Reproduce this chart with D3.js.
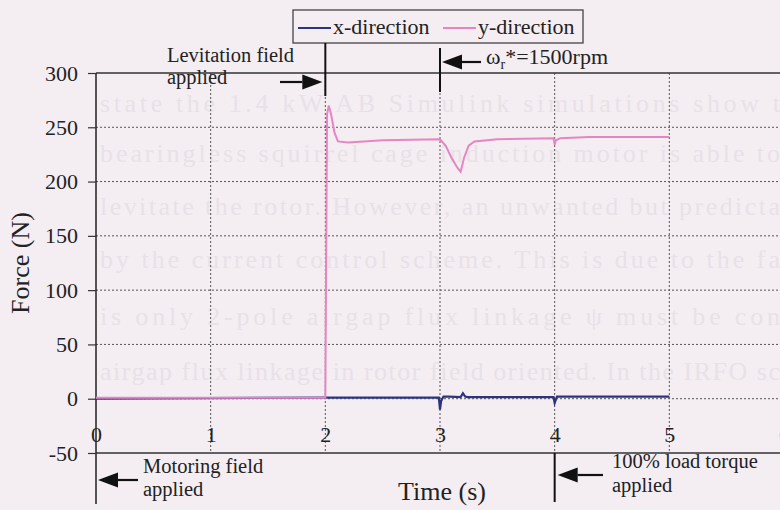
<!DOCTYPE html>
<html>
<head>
<meta charset="utf-8">
<script src="https://cdn.jsdelivr.net/npm/d3@7"></script>
<style>
  html, body { margin: 0; padding: 0; background: #f4eef3; }
  svg { display: block; font-family: "Liberation Serif", "Times New Roman", serif; }
</style>
</head>
<body>
<svg id="chart" width="780" height="510"></svg>
<script>
// ---- data ----
const xTicks = [0, 1, 2, 3, 4, 5, 6];
const yTicks = [-50, 0, 50, 100, 150, 200, 250, 300];
const seriesNames = ["x-direction", "y-direction"];

const xDirTime  = [0, 2, 2.99, 3.0, 3.01, 3.03, 3.08, 3.18, 3.2, 3.22, 3.24, 3.3, 3.99, 4.0, 4.02, 4.05, 5];
const xDirForce = [0, 1, 1, -10, -2, 2, 2, 1.5, 5, 2, 1.5, 1.5, 1.5, -4, 2, 2, 2];

const yDirTime  = [0, 2.0, 2.015, 2.03, 2.05, 2.08, 2.11, 2.2, 2.5, 3.0, 3.05, 3.1, 3.15, 3.18, 3.21, 3.25, 3.3, 3.5, 3.99, 4.0, 4.01, 4.05, 4.3, 5];
const yDirForce = [1, 1, 262, 270, 262, 245, 237, 236, 238, 239, 233, 222, 213, 209, 222, 233, 237, 239, 240, 234, 238, 240, 241, 241];

const annotations = [
  { t: 2, lines: ["Levitation field", "applied"] },
  { t: 3, lines: ["ωr*=1500rpm"] },
  { t: 0, lines: ["Motoring field", "applied"] },
  { t: 4, lines: ["100% load torque", "applied"] }
];

const ghostLines = [
  "state  the  1.4 kW  AB  Simulink  simulations  show  t",
  "bearingless  squirrel  cage  induction  motor  is  able  to",
  "levitate  the  rotor.  However,  an  unwanted  but  predicta",
  "by  the  current  control  scheme.  This  is  due  to  the  fa",
  "is  only  2-pole  airgap  flux  linkage  ψ   must  be  con",
  "airgap  flux  linkage  in  rotor  field  oriented.  In  the  IRFO  sc"
];

(function () {
// ---- layout ----
const svg = d3.select("#chart");
const pLeft = 96, pRight = 784, pTop = 73, pBottom = 453;
const x = d3.scaleLinear().domain([0, 6]).range([pLeft, pRight]);
const y = d3.scaleLinear().domain([-50, 300]).range([pBottom, pTop]);
const ink = "#222";

// ghost (scan bleed-through) text
const ghostY = [112, 162, 215, 268, 325, 380];
svg.append("g").selectAll("text").data(ghostLines).join("text")
  .attr("x", 100).attr("y", (d, i) => ghostY[i])
  .attr("textLength", 680).attr("lengthAdjust", "spacing")
  .attr("font-size", 26).attr("fill", "#e8e1e7").text(d => d);

// grid
const grid = svg.append("g").attr("stroke", "#555").attr("stroke-width", 1).attr("stroke-dasharray", "2,2");
grid.selectAll("line.h").data(yTicks.filter(v => v > -50 && v < 300)).join("line").attr("class", "h")
  .attr("x1", pLeft).attr("x2", 780).attr("y1", d => y(d)).attr("y2", d => y(d));
grid.selectAll("line.v").data(xTicks.filter(v => v > 0)).join("line").attr("class", "v")
  .attr("x1", d => x(d)).attr("x2", d => x(d)).attr("y1", pTop).attr("y2", pBottom);

// frame
svg.append("line").attr("x1", pLeft).attr("x2", 780).attr("y1", pTop).attr("y2", pTop).attr("stroke", "#333").attr("stroke-width", 1.5);
svg.append("line").attr("x1", pLeft).attr("x2", 780).attr("y1", pBottom).attr("y2", pBottom).attr("stroke", "#333").attr("stroke-width", 1.5);
svg.append("line").attr("x1", pLeft).attr("x2", pLeft).attr("y1", pTop).attr("y2", 504).attr("stroke", "#222").attr("stroke-width", 1.5);

// y axis
const yAxis = svg.append("g").attr("transform", `translate(${pLeft},0)`)
  .call(d3.axisLeft(y).tickValues(yTicks).tickSize(8).tickPadding(10).tickFormat(d => String(d)));
yAxis.select(".domain").remove();
yAxis.selectAll("line").attr("stroke", "#333").attr("stroke-width", 1.2);
yAxis.selectAll("text").attr("font-size", 22).attr("fill", ink).attr("font-family", "Liberation Serif");

// x axis labels (inside plot)
const xAxis = svg.append("g").attr("transform", `translate(0,${y(0)})`)
  .call(d3.axisBottom(x).tickValues(xTicks).tickSize(0).tickPadding(28).tickFormat(d => String(d)));
xAxis.select(".domain").remove();
xAxis.selectAll("text").attr("font-size", 22).attr("fill", ink).attr("font-family", "Liberation Serif");

// axis titles
svg.append("text").attr("transform", "translate(29,263) rotate(-90)").attr("text-anchor", "middle")
  .attr("font-size", 26).attr("fill", ink).text("Force (N)");
svg.append("text").attr("x", 442).attr("y", 500).attr("text-anchor", "middle")
  .attr("font-size", 26).attr("fill", ink).text("Time (s)");

// series
const line = d3.line().x(d => x(d[0])).y(d => y(d[1]));
const blue = "#2c3480", pink = "#e586c2";
svg.append("path").datum(xDirTime.map((t, i) => [t, xDirForce[i]]))
  .attr("d", line).attr("fill", "none").attr("stroke", blue).attr("stroke-width", 2.2);
svg.append("path").datum(yDirTime.map((t, i) => [t, yDirForce[i]]))
  .attr("d", line).attr("fill", "none").attr("stroke", pink).attr("stroke-width", 2);

// legend
svg.append("rect").attr("x", 293).attr("y", 10).attr("width", 290).attr("height", 33)
  .attr("fill", "none").attr("stroke", "#444").attr("stroke-width", 1.3);
const legendItems = [
  { name: seriesNames[0], color: blue, x1: 298, x2: 331, tx: 333 },
  { name: seriesNames[1], color: pink, x1: 443, x2: 476, tx: 478 }
];
legendItems.forEach(it => {
  svg.append("line").attr("x1", it.x1).attr("x2", it.x2).attr("y1", 28).attr("y2", 28)
    .attr("stroke", it.color).attr("stroke-width", 2);
  svg.append("text").attr("x", it.tx).attr("y", 34).attr("font-size", 22).attr("fill", ink).text(it.name);
});

// annotation markers
function marker(t, y1, y2) {
  svg.append("line").attr("x1", x(t)).attr("x2", x(t)).attr("y1", y1).attr("y2", y2)
    .attr("stroke", "#111").attr("stroke-width", 2);
}
function arrow(xTail, xTip, yc) {
  const dir = xTip > xTail ? 1 : -1;
  const headLen = 20, half = 7.5;
  const xBase = xTip - dir * headLen;
  svg.append("line").attr("x1", xTail).attr("x2", xBase).attr("y1", yc).attr("y2", yc)
    .attr("stroke", "#111").attr("stroke-width", 2.2);
  svg.append("path").attr("d", `M${xTip},${yc} L${xBase},${yc - half} L${xBase},${yc + half} Z`).attr("fill", "#111");
}
const annFont = 20.5;
// Levitation field
marker(annotations[0].t, 43, 96);
arrow(280, x(annotations[0].t) - 3, 82);
svg.append("text").attr("font-size", annFont).attr("fill", ink)
  .selectAll("tspan").data(annotations[0].lines).join("tspan")
  .attr("x", 167).attr("y", (d, i) => 62 + i * 22).text(d => d);
// speed step
marker(annotations[1].t, 48, 92);
arrow(481, x(annotations[1].t) + 2, 62);
const wt = svg.append("text").attr("x", 486).attr("y", 64).attr("font-size", 22).attr("fill", ink);
wt.append("tspan").text("ω");
wt.append("tspan").attr("font-size", 14).attr("dy", 5).text("r");
wt.append("tspan").attr("dy", -5).text("*=1500rpm");
// Motoring field
arrow(138, x(annotations[2].t) + 2, 480);
svg.append("text").attr("font-size", annFont).attr("fill", ink)
  .selectAll("tspan").data(annotations[2].lines).join("tspan")
  .attr("x", 143).attr("y", (d, i) => 473 + i * 23).text(d => d);
// load torque
marker(annotations[3].t, pBottom, 502);
arrow(603, x(annotations[3].t) + 3, 475);
svg.append("text").attr("font-size", annFont).attr("fill", ink)
  .selectAll("tspan").data(annotations[3].lines).join("tspan")
  .attr("x", 612).attr("y", (d, i) => 468 + i * 24).text(d => d);
})();
</script>
</body>
</html>
